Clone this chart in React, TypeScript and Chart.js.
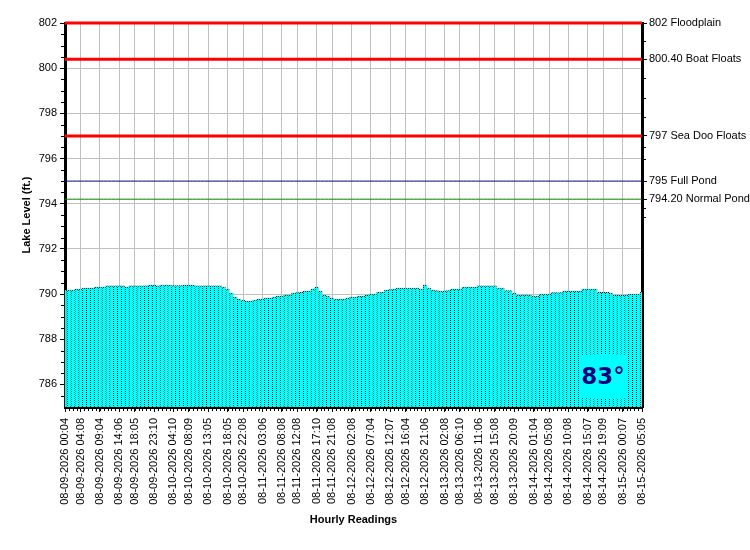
import { useEffect, useRef } from 'react';
import { Chart, registerables } from 'chart.js';

Chart.register(...registerables);

// hourly readings, 08-09-2026 00:04 through 08-15-2026 05:05
const levels = [
  790.18, 790.18, 790.18, 790.22, 790.22, 790.27, 790.27, 790.27, 790.31, 790.31,
  790.31, 790.36, 790.36, 790.36, 790.36, 790.36, 790.31, 790.36, 790.36, 790.36,
  790.36, 790.36, 790.4, 790.4, 790.36, 790.4, 790.4, 790.4, 790.38, 790.38,
  790.38, 790.4, 790.4, 790.4, 790.36, 790.36, 790.36, 790.36, 790.36, 790.36,
  790.36, 790.31, 790.22, 790.04, 789.87, 789.78, 789.73, 789.69, 789.69, 789.73,
  789.78, 789.78, 789.82, 789.82, 789.87, 789.91, 789.91, 789.96, 789.96, 790.04,
  790.06, 790.08, 790.13, 790.13, 790.22, 790.31, 790.13, 789.96, 789.91, 789.82,
  789.78, 789.78, 789.78, 789.82, 789.87, 789.87, 789.91, 789.91, 789.96, 790.0,
  790.0, 790.08, 790.08, 790.18, 790.2, 790.22, 790.27, 790.27, 790.27, 790.27,
  790.27, 790.27, 790.22, 790.4, 790.27, 790.18, 790.15, 790.13, 790.13, 790.15,
  790.22, 790.22, 790.22, 790.31, 790.31, 790.31, 790.31, 790.36, 790.36, 790.36,
  790.36, 790.36, 790.27, 790.27, 790.15, 790.15, 790.04, 789.96, 789.96, 789.96,
  789.96, 789.91, 789.91, 790.0, 790.0, 790.0, 790.06, 790.06, 790.06, 790.13,
  790.13, 790.13, 790.13, 790.13, 790.22, 790.22, 790.22, 790.22, 790.08, 790.08,
  790.08, 790.04, 789.96, 789.96, 789.96, 789.96, 790.0, 790.0, 790.0, 790.08,
];

const tickLabels = [
  '08-09-2026 00:04', '08-09-2026 04:08', '08-09-2026 09:04', '08-09-2026 14:06',
  '08-09-2026 18:05', '08-09-2026 23:10', '08-10-2026 04:10', '08-10-2026 08:09',
  '08-10-2026 13:05', '08-10-2026 18:05', '08-10-2026 22:08', '08-11-2026 03:06',
  '08-11-2026 08:08', '08-11-2026 12:08', '08-11-2026 17:10', '08-11-2026 21:08',
  '08-12-2026 02:08', '08-12-2026 07:04', '08-12-2026 12:07', '08-12-2026 16:04',
  '08-12-2026 21:06', '08-13-2026 02:08', '08-13-2026 06:10', '08-13-2026 11:06',
  '08-13-2026 15:08', '08-13-2026 20:09', '08-14-2026 01:04', '08-14-2026 05:08',
  '08-14-2026 10:08', '08-14-2026 15:07', '08-14-2026 19:09', '08-15-2026 00:07',
  '08-15-2026 05:05',
];

const refValues = [802, 800.4, 797, 795, 794.2];
const refNames = ['802 Floodplain', '800.40 Boat Floats', '797 Sea Doo Floats', '795 Full Pond', '794.20 Normal Pond'];
const refColors = ['#ff0000', '#ff0000', '#ff0000', '#000080', '#008000'];
const refWidths = [3, 3, 3, 1, 1];
const rightMinorTicks = [801.2, 799.55, 798.7, 797.85, 796.5, 796, 793.8, 793.4];

const waterTemp = '83°';

// one category per reading; only some hours carry a label
const hourIndex = (s: string) => (parseInt(s.slice(3, 5)) - 9) * 24 + parseInt(s.slice(11, 13));
const categories: string[] = levels.map(() => '');
tickLabels.forEach((t) => { categories[hourIndex(t)] = t; });

const FONT = 'Liberation Sans, Arial, sans-serif';

function dotPattern(ctx: CanvasRenderingContext2D) {
  const c = document.createElement('canvas');
  c.width = 2;
  c.height = 2;
  const g = c.getContext('2d')!;
  g.fillStyle = '#00ffff';
  g.fillRect(0, 0, 2, 2);
  g.fillStyle = '#000';
  g.fillRect(0, 0, 1, 1);
  g.fillRect(1, 1, 1, 1);
  return ctx.createPattern(c, 'repeat') || '#008080';
}

const extras = {
  id: 'extras',
  afterDraw(chart: Chart) {
    const { ctx, chartArea } = chart;
    const x = chart.scales.x;
    const y = chart.scales.y;
    ctx.save();
    ctx.strokeStyle = '#000';
    ctx.lineWidth = 1;
    ctx.beginPath();
    // small ticks: every reading, every half foot
    levels.forEach((_, i) => {
      const px = Math.round(x.getPixelForValue(i)) + 0.5;
      ctx.moveTo(px, chartArea.bottom + 1);
      ctx.lineTo(px, chartArea.bottom + 4);
    });
    for (let v = 785.5; v < 802; v += 0.5) {
      if (v % 2 === 0) continue;
      const py = Math.round(y.getPixelForValue(v)) + 0.5;
      ctx.moveTo(chartArea.left - 4, py);
      ctx.lineTo(chartArea.left - 1, py);
    }
    rightMinorTicks.forEach((v) => {
      const py = Math.round(y.getPixelForValue(v)) + 0.5;
      ctx.moveTo(chartArea.right + 1, py);
      ctx.lineTo(chartArea.right + 4, py);
    });
    ctx.stroke();

    // water temperature badge
    const bx = chartArea.right - 62;
    const by = chartArea.bottom - 52;
    ctx.fillStyle = '#00ffff';
    ctx.fillRect(bx, by, 47, 43);
    ctx.fillStyle = '#000080';
    ctx.font = 'bold 23px "DejaVu Sans", Verdana, sans-serif';
    ctx.textAlign = 'center';
    ctx.textBaseline = 'middle';
    ctx.fillText(waterTemp, bx + 23, by + 23);
    ctx.restore();
  },
};

export default function App() {
  const chartRef = useRef<HTMLCanvasElement>(null);
  const chartInstance = useRef<Chart | null>(null);

  useEffect(() => {
    if (!chartRef.current) return;
    if (chartInstance.current) chartInstance.current.destroy();
    const ctx = chartRef.current.getContext('2d');
    if (!ctx) return;

    const tickFont = { family: FONT, size: 11 };
    const titleFont = { family: FONT, size: 11, weight: 'bold' as const };

    chartInstance.current = new Chart(ctx, {
      type: 'bar',
      data: {
        labels: categories,
        datasets: [
          ...refValues.map((v, k) => ({
            type: 'line' as const,
            data: levels.map(() => v),
            borderColor: refColors[k],
            borderWidth: refWidths[k],
            pointRadius: 0,
            order: 1,
            clip: 3,
          })),
          {
            type: 'bar' as const,
            data: levels,
            backgroundColor: '#00ffff',
            borderColor: dotPattern(ctx),
            borderWidth: { left: 1, top: 1, right: 0, bottom: 0 },
            borderSkipped: false,
            barPercentage: 1,
            categoryPercentage: 1,
            order: 2,
          },
        ],
      },
      options: {
        animation: false,
        responsive: true,
        maintainAspectRatio: false,
        devicePixelRatio: 1,
        events: [],
        layout: { padding: { top: 23, left: 0, right: 0, bottom: 0 } },
        plugins: {
          legend: { display: false },
          tooltip: { enabled: false },
        },
        scales: {
          x: {
            offset: false,
            grid: {
              offset: false,
              color: (c: any) => (categories[c.index] ? '#c0c0c0' : 'rgba(0,0,0,0)'),
              tickColor: (c: any) => (categories[c.index] ? '#000' : 'rgba(0,0,0,0)'),
              tickLength: 5,
            },
            border: { color: '#000', width: 3 },
            ticks: {
              autoSkip: false,
              maxRotation: 90,
              minRotation: 90,
              font: tickFont,
              color: '#000',
              padding: 6,
              callback: (_v: any, i: number) => categories[i],
            },
            title: {
              display: true,
              text: 'Hourly Readings',
              font: titleFont,
              color: '#000',
              padding: { top: 4, bottom: 23 },
            },
            afterFit: (s: any) => { s.height = 143; },
          },
          y: {
            position: 'left',
            min: 785,
            max: 802,
            beginAtZero: false,
            ticks: { stepSize: 2, includeBounds: false, font: tickFont, color: '#000', padding: 3 },
            grid: { color: '#c0c0c0', tickColor: '#000', tickLength: 5 },
            border: { color: '#000', width: 3 },
            title: {
              display: true,
              text: 'Lake Level (ft.)',
              font: titleFont,
              color: '#000',
              padding: { top: 20, bottom: 4 },
            },
            afterFit: (s: any) => { s.width = 65; },
          },
          y2: {
            position: 'right',
            min: 785,
            max: 802,
            afterBuildTicks: (s: any) => { s.ticks = refValues.map((v) => ({ value: v })); },
            ticks: {
              font: tickFont,
              color: '#000',
              padding: 2,
              callback: (v: any) => refNames[refValues.indexOf(Number(v))],
            },
            grid: { drawOnChartArea: false, tickColor: '#000', tickLength: 5 },
            border: { color: '#000', width: 3 },
            afterFit: (s: any) => { s.width = 108; },
          },
        },
      },
      plugins: [extras],
    });

    return () => {
      if (chartInstance.current) {
        chartInstance.current.destroy();
        chartInstance.current = null;
      }
    };
  }, []);

  return (
    <div style={{ position: 'absolute', left: 0, top: 0, width: 750, height: 550, background: '#fff' }}>
      <canvas ref={chartRef} />
    </div>
  );
}
